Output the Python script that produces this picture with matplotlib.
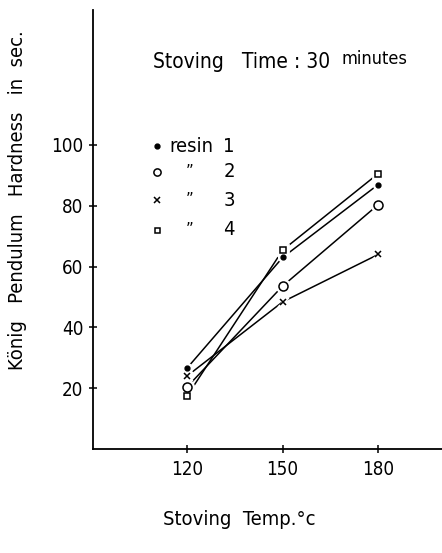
import matplotlib
matplotlib.use("Agg")
import matplotlib.pyplot as plt

plt.rcParams.update({
    "font.family": "DejaVu Sans",
    "font.stretch": "condensed",
    "font.size": 12,
})

temps = [120, 150, 180]
resin1 = [26.6, 63.0, 87.0]
resin2 = [20.4, 53.6, 80.4]
resin3 = [24.0, 48.4, 64.0]
resin4 = [17.4, 65.4, 90.6]
series_names = ["1", "2", "3", "4"]
yticks = [20, 40, 60, 80, 100]

styles = [
    dict(marker="o", ms=3.5, mfc="black", mec="black"),
    dict(marker="o", ms=6.5, mfc="white", mec="black", mew=1.1),
    dict(marker="x", ms=5, mfc="none", mec="black", mew=1.1),
    dict(marker="s", ms=4.5, mfc="white", mec="black", mew=1.1),
]

fig = plt.figure(figsize=(4.42, 5.53), dpi=100)
ax = fig.add_axes([93 / 442, 104 / 553, 349 / 442, 439 / 553])
ax.set_xlim(90.5, 200)
ax.set_ylim(0, 144.4)

for vals, st in zip([resin1, resin2, resin3, resin4], styles):
    ax.plot(temps, vals, color="black", lw=1.1, zorder=2)
    # white halo so lines stop short of the symbols
    ax.plot(temps, vals, ls="none", marker=st["marker"], ms=st["ms"] + 2.5,
            mfc="white", mec="white", mew=2, zorder=3)
    ax.plot(temps, vals, ls="none", zorder=4, **st)

for side in ("top", "right"):
    ax.spines[side].set_visible(False)
for side in ("left", "bottom"):
    ax.spines[side].set_linewidth(1.3)

ax.set_xticks(temps)
ax.set_yticks(yticks)
ax.tick_params(axis="both", direction="inout", length=6, width=1.1,
               labelsize=13.5)
ax.tick_params(axis="y", pad=4)
ax.tick_params(axis="x", pad=5)

ax.set_xlabel("Stoving  Temp.°c", fontsize=14.5)
ax.xaxis.set_label_coords(0.42, -0.14)
ax.set_ylabel("König   Pendulum   Hardness   in  sec.", fontsize=14.5)
ax.yaxis.set_label_coords(-0.188, 0.567)

# title
ax.text(0.172, 0.868, "Stoving   Time : 30", transform=ax.transAxes,
        fontsize=15, ha="left", va="baseline")
ax.text(0.712, 0.878, "minutes", transform=ax.transAxes,
        fontsize=13, ha="left", va="baseline")

# legend
rows = [0.690, 0.631, 0.567, 0.499]
for i, (name, st, yy) in enumerate(zip(series_names, styles, rows)):
    s = dict(st)
    s["ms"] = st["ms"] * 0.8 if i else st["ms"]
    ax.plot([0.183], [yy], ls="none", transform=ax.transAxes,
            clip_on=False, **s)
    if i == 0:
        ax.text(0.22, yy, "resin", transform=ax.transAxes, fontsize=14.5,
                ha="left", va="center")
    else:
        ax.text(0.278, yy, "\u201d", transform=ax.transAxes, fontsize=12,
                ha="center", va="center")
    ax.text(0.39, yy, name, transform=ax.transAxes, fontsize=14.5,
            ha="center", va="center")

fig.savefig("out.png", dpi=100)
